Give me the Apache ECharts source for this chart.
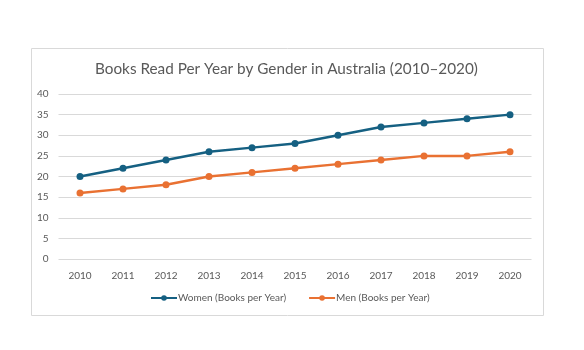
<!DOCTYPE html>
<html><head><meta charset="utf-8">
<script src="https://cdn.jsdelivr.net/npm/echarts@6/dist/echarts.min.js"></script>
<style>html,body{margin:0;padding:0;background:#fff}#c{width:584px;height:350px}</style>
</head><body><div id="c"></div>
<script>
const years = ['2010','2011','2012','2013','2014','2015','2016','2017','2018','2019','2020'];
const women = [20,22,24,26,27,28,30,32,33,34,35];
const men = [16,17,18,20,21,22,23,24,25,25,26];
const chart = echarts.init(document.getElementById('c'));
const font = 'Lato, "Noto Sans", sans-serif';
chart.setOption({
  animation:false,
  graphic:[{type:'rect',shape:{x:31.5,y:48.5,width:512,height:267},style:{fill:'none',stroke:'#d9d9d9',lineWidth:1},z:-1}],
  title:{text:'Books Read Per Year by Gender in Australia (2010–2020)',left:95,top:62,padding:0,
    textStyle:{fontFamily:font,fontSize:15.3,fontWeight:'normal',color:'#595959'}},
  legend:{bottom:47,left:150,padding:0,itemGap:22,itemWidth:26,itemHeight:7,
    textStyle:{fontFamily:font,fontSize:10,color:'#595959',padding:[0,0,0,-4]},
    data:['Women (Books per Year)','Men (Books per Year)']},
  grid:{left:58.5,right:52.5,top:94,bottom:91,containLabel:false},
  xAxis:{type:'category',data:years,boundaryGap:true,
    axisLine:{show:false},axisTick:{show:false},
    axisLabel:{fontFamily:font,fontSize:10,color:'#595959',margin:12}},
  yAxis:{type:'value',min:0,max:40,interval:5,
    axisLine:{show:false},axisTick:{show:false},
    splitLine:{lineStyle:{color:'#d9d9d9',width:1}},
    axisLabel:{fontFamily:font,fontSize:10,color:'#595959',margin:10}},
  series:[
    {name:'Women (Books per Year)',type:'line',data:women,symbol:'circle',symbolSize:7,
      itemStyle:{color:'#156082'},lineStyle:{width:2.5,color:'#156082'}},
    {name:'Men (Books per Year)',type:'line',data:men,symbol:'circle',symbolSize:7,
      itemStyle:{color:'#E97132'},lineStyle:{width:2.5,color:'#E97132'}}
  ]
});
</script></body></html>
